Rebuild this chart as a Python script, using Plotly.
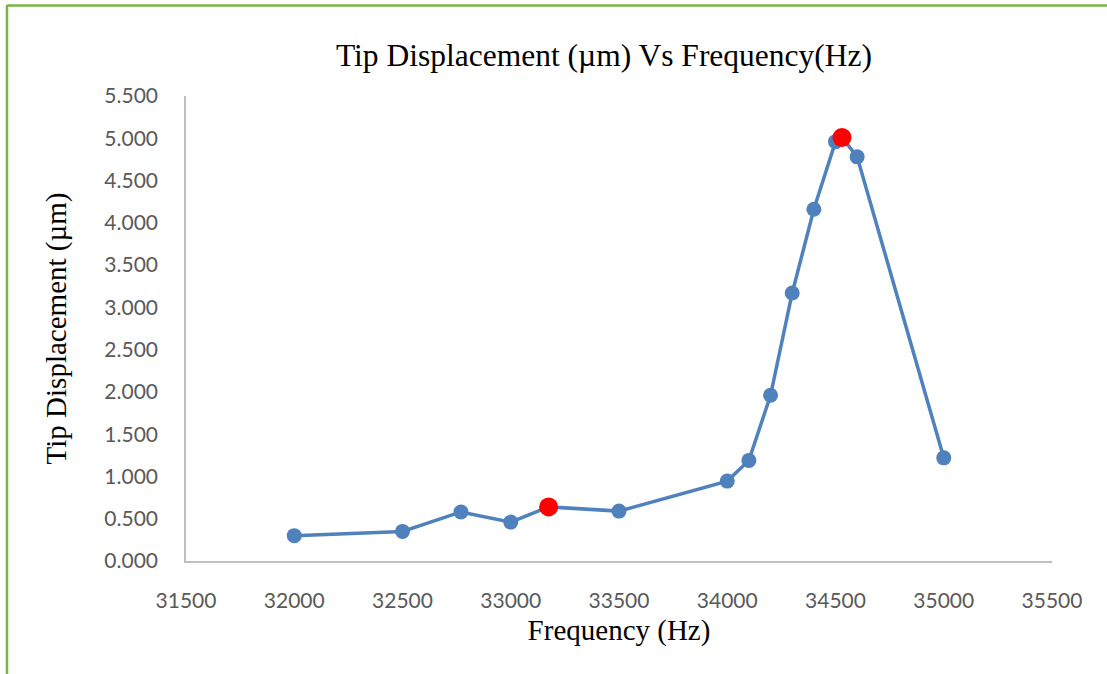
import plotly.graph_objects as go

freq = [32000, 32500, 32770, 33000, 33175, 33500, 34000, 34100, 34200, 34300, 34400, 34500, 34530, 34600, 35000]
disp = [0.30, 0.35, 0.58, 0.46, 0.64, 0.59, 0.945, 1.19, 1.96, 3.17, 4.16, 4.96, 5.01, 4.78, 1.22]
highlight_freq = [33175, 34530]
highlight_disp = [0.64, 5.01]

blue = "#4F81BD"
fig = go.Figure()
fig.add_trace(go.Scatter(x=freq, y=disp, mode="lines+markers",
                         line=dict(color=blue, width=3.5),
                         marker=dict(color=blue, size=15), showlegend=False))
fig.add_trace(go.Scatter(x=highlight_freq, y=highlight_disp, mode="markers",
                         marker=dict(color="#FF0000", size=19), showlegend=False))

green = "#7CB342"
fig.add_shape(type="line", xref="paper", yref="paper", x0=(7-186)/866, x1=(1107-186)/866,
              y0=(561-5.5)/465, y1=(561-5.5)/465, line=dict(color=green, width=2.5))
fig.add_shape(type="line", xref="paper", yref="paper", x0=(7-186)/866, x1=(7-186)/866,
              y0=(561-5)/465, y1=(561-674)/465, line=dict(color=green, width=2.5))

serif = "Liberation Serif, Times New Roman, serif"
tickfont = dict(family="Lato, Open Sans, sans-serif", size=21, color="#595959")
fig.update_layout(
    width=1107, height=674,
    margin=dict(l=186, r=55, t=96, b=113),
    paper_bgcolor="white", plot_bgcolor="white",
    title=dict(text="Tip Displacement (µm) Vs Frequency(Hz)", x=604/1107, xanchor="center",
               y=1-55/674, yanchor="middle",
               font=dict(family=serif, size=31.5, color="black")),
    xaxis=dict(range=[31500, 35500], dtick=500, tick0=31500, tickformat="d", showgrid=False, zeroline=False,
               showline=True, linecolor="#BFBFBF", linewidth=1.5, ticks="", tickfont=tickfont,
               ticklabelstandoff=20,
               title=dict(text="Frequency (Hz)", standoff=9,
                          font=dict(family=serif, size=29, color="black"))),
    yaxis=dict(range=[0, 5.5], dtick=0.5, tickformat=".3f", showgrid=False, zeroline=False,
               showline=True, linecolor="#BFBFBF", linewidth=1.5, ticks="", tickfont=tickfont,
               ticklabelstandoff=22,
               title=dict(text="Tip Displacement (µm)", standoff=29,
                          font=dict(family=serif, size=29, color="black"))),
)
fig.write_html("out.html")
